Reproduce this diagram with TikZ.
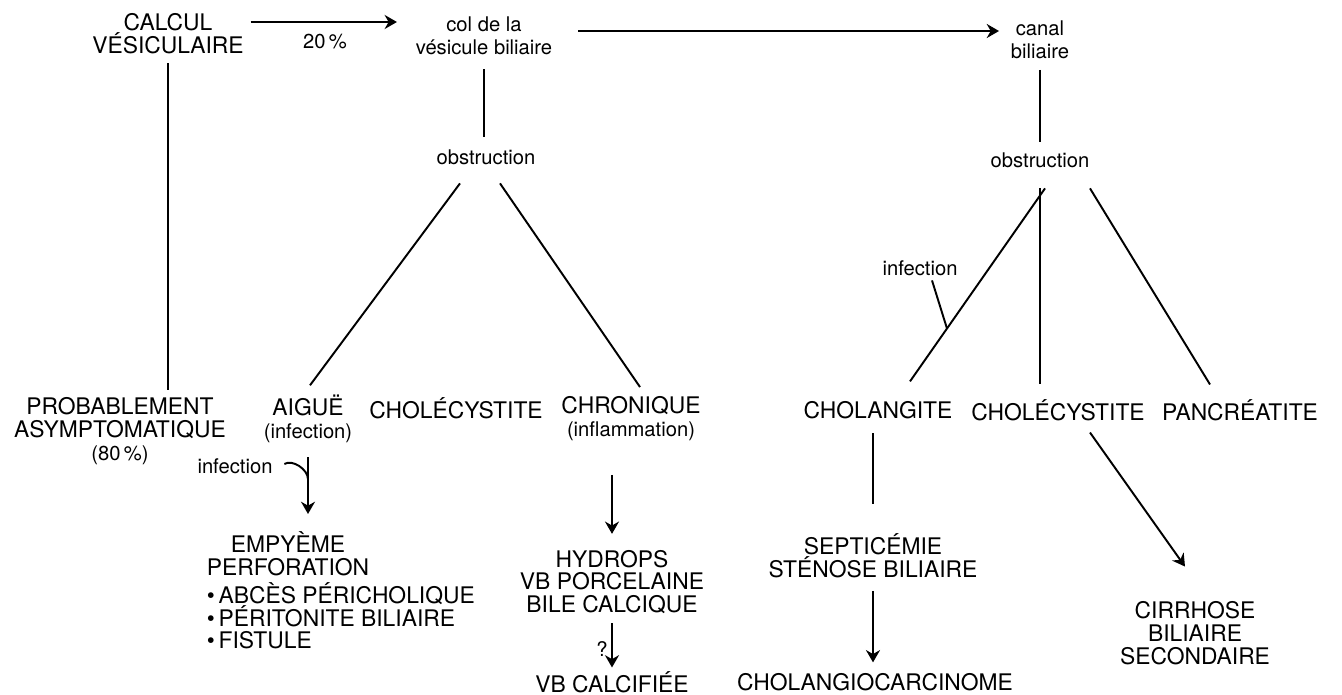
\documentclass[tikz,border=0pt]{standalone}
\usepackage{fontspec}
\setmainfont{TeX Gyre Heros}
\usepackage{tikz}
\usetikzlibrary{calc,arrows.meta}
\newcommand{\petit}{\fontsize{11.5}{13}\selectfont}

\begin{document}
\begin{tikzpicture}[x=0.2mm, y=-0.2mm,
  majus/.style={font=\fontsize{13}{13}\selectfont, align=center, inner sep=2pt},
  low/.style={font=\petit, align=center, inner sep=2pt},
  trait/.style={draw, line width=1.1pt},
  fleche/.style={trait, -{Stealth[length=7pt,width=8pt]}}]
  \useasboundingbox (0,0) rectangle (1342,695);
  \node[majus] (calcul) at (168,34) {CALCUL\\VÉSICULAIRE};
  \node[low] (col) at (484,36) {col de la\\vésicule biliaire};
  \node[low] (canal) at (1040,40) {canal\\biliaire};
  \node[low] (pourc) at (325,42) {20\,\%};
  \node[low] (obs1) at (486,157) {obstruction};
  \node[low] (obs2) at (1040,160) {obstruction};
  \node[low] (inf2) at (920,268) {infection};
  \node[majus] (proba) at (120,431) {PROBABLEMENT\\ASYMPTOMATIQUE\\{\petit(80\,\%)}};
  \node[majus] (aigue) at (308,419) {AIGUË\\{\petit(infection)}};
  \node[majus] (cholec1) at (456,408) {CHOLÉCYSTITE};
  \node[majus] (chron) at (631,419) {CHRONIQUE\\{\petit(inflammation)}};
  \node[low] (inf1) at (235,466) {infection};
  \node[majus] (empy) at (288,554) {EMPYÈME\\PERFORATION};
  \node[majus, font=\fontsize{13}{12.5}\selectfont, align=left, anchor=north west, yshift=1pt] (compl) at (empy.south west)
    {\textbullet\,ABCÈS PÉRICHOLIQUE\\\textbullet\,PÉRITONITE BILIAIRE\\\textbullet\,FISTULE};
  \node[majus] (hydrops) at (612,582) {HYDROPS\\VB PORCELAINE\\BILE CALCIQUE};
  \node[majus] (calcif) at (612,682) {VB CALCIFIÉE};
  \node[majus] (cholang) at (878,410) {CHOLANGITE};
  \node[majus] (cholec2) at (1058,410) {CHOLÉCYSTITE};
  \node[majus] (pancr) at (1240,410) {PANCRÉATITE};
  \node[majus] (septi) at (873,556) {SEPTICÉMIE\\STÉNOSE BILIAIRE};
  \node[majus] (carci) at (875,682) {CHOLANGIOCARCINOME};
  \node[majus] (cirrh) at (1195,633) {CIRRHOSE\\BILIAIRE\\SECONDAIRE};

  \draw[fleche] ($(calcul.east)+(3,-12)$) -- ($(col.west)+(-15,-14)$);
  \draw[fleche] ($(col.east)+(22,-5)$) -- ($(canal.west)+(-8,-9)$);
  \draw[trait, shorten <=3pt, shorten >=2pt] (calcul.south) -- (calcul.south |- proba.north);
  \draw[trait, shorten <=6pt, shorten >=5pt] (col.south) -- (col.south |- obs1.north);
  \draw[trait, shorten <=4pt, shorten >=4pt] (canal.south) -- (canal.south |- obs2.north);
  \draw[trait] ($(obs1.south)+(-26,15)$) -- ($(aigue.north)+(2,-6)$);
  \draw[trait] ($(obs1.south)+(14,15)$) -- ($(chron.north)+(9,-6)$);
  \draw[trait] ($(obs2.south)+(5,17)$) -- ($(cholang.north)+(32,-16)$) coordinate[pos=0.726] (hk2);
  \draw[trait] ($(obs2.south)+(0,17)$) -- ($(cholec2.north)+(-18,-11)$);
  \draw[trait] ($(obs2.south)+(50,17)$) -- ($(pancr.north)+(-30,-11)$);
  \draw[trait] ($(inf2.south)+(12,1)$) -- (hk2);
  \draw[fleche, shorten <=6pt, shorten >=8pt] (aigue.south) -- (aigue.south |- empy.north) coordinate[pos=0.4] (hk1);
  \draw[trait] ($(inf1.east)+(8,-2)$) .. controls +(8,-5) and +(0,-10) .. (hk1);
  \draw[fleche, shorten <=17pt, shorten >=7pt] (hydrops.north |- chron.south) -- (hydrops.north);
  \draw[fleche, shorten <=3pt] (hydrops.south) -- (calcif.north) node[low, left, pos=0.63] (quest) {?};
  \draw[trait, shorten <=6pt, shorten >=15pt] (septi.north |- cholang.south) -- (septi.north);
  \draw[fleche, shorten <=5pt, shorten >=4pt] (septi.south) -- (septi.south |- carci.north);
  \draw[fleche] ($(cholec2.south)+(32,8)$) -- ($(cirrh.north)+(-10,-31)$);
\end{tikzpicture}
\end{document}
